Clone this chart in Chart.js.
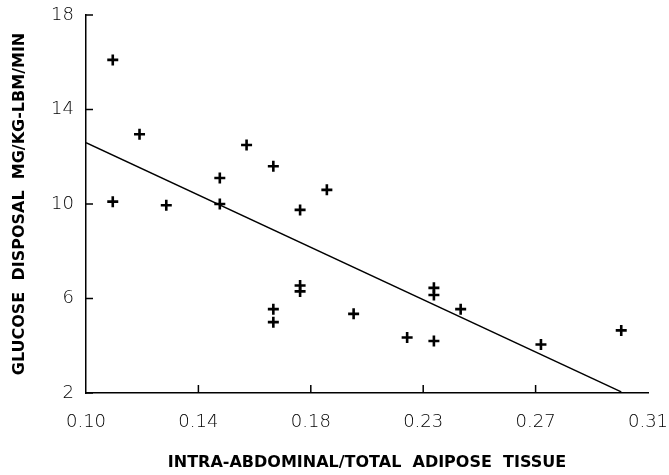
<!DOCTYPE html>
<html>
<head>
<meta charset="utf-8">
<script src="https://cdn.jsdelivr.net/npm/chart.js@4.4.0/dist/chart.umd.min.js"></script>
<style>
html,body{margin:0;padding:0;background:#fff;}
#wrap{width:669px;height:475px;position:relative;}
</style>
</head>
<body>
<div id="wrap"><canvas id="c" width="669" height="475"></canvas></div>
<script>
// Data
const xValues = [0.110,0.120,0.110,0.130,0.150,0.150,0.160,0.170,0.180,0.190,0.170,0.170,0.180,0.180,0.200,0.220,0.230,0.230,0.230,0.240,0.270,0.300];
const yValues = [16.1,12.95,10.1,9.95,11.1,10.0,12.5,11.6,9.75,10.6,5.55,5.0,6.55,6.3,5.35,4.35,4.2,6.45,6.15,5.55,4.05,4.65];
const fitX = [0.10, 0.30];
const fitY = [12.6, 2.05];
const xTickValues = [0.10, 0.142, 0.184, 0.226, 0.268, 0.31];
const xTickLabels = ['0.10','0.14','0.18','0.23','0.27','0.31'];
const yTickValues = [2, 6, 10, 14, 18];
const yTickLabels = ['2','6','10','14','18'];
const xTitle = 'INTRA-ABDOMINAL/TOTAL  ADIPOSE  TISSUE';
const yTitle = 'GLUCOSE  DISPOSAL  MG/KG-LBM/MIN';

const points = xValues.map((x, i) => ({x: x, y: yValues[i]}));
const fitPoints = fitX.map((x, i) => ({x: x, y: fitY[i]}));

const inwardTicks = {
  id: 'inwardTicks',
  afterDraw(chart) {
    const ctx = chart.ctx;
    const xs = chart.scales.x, ys = chart.scales.y;
    const area = chart.chartArea;
    ctx.save();
    ctx.strokeStyle = '#000';
    ctx.lineWidth = 1.5;
    xTickValues.slice(1, -1).forEach(v => {
      const px = xs.getPixelForValue(v);
      ctx.beginPath();
      ctx.moveTo(px, area.bottom);
      ctx.lineTo(px, area.bottom - 8);
      ctx.stroke();
    });
    yTickValues.forEach(v => {
      const py = ys.getPixelForValue(v);
      ctx.beginPath();
      ctx.moveTo(area.left, py);
      ctx.lineTo(area.left + 7, py);
      ctx.stroke();
    });
    ctx.restore();
  }
};

new Chart(document.getElementById('c'), {
  type: 'scatter',
  data: {
    datasets: [
      {
        data: points,
        pointStyle: 'cross',
        pointRadius: 5.5,
        pointBorderWidth: 2.6,
        borderColor: '#000',
        backgroundColor: '#000',
        showLine: false
      },
      {
        type: 'line',
        data: fitPoints,
        borderColor: '#000',
        borderWidth: 1.5,
        pointRadius: 0,
        fill: false,
        tension: 0
      }
    ]
  },
  plugins: [inwardTicks],
  options: {
    responsive: false,
    animation: false,
    events: [],
    layout: {padding: {left: 0, right: 21, top: 15, bottom: 0}},
    plugins: {legend: {display: false}, tooltip: {enabled: false}},
    scales: {
      x: {
        type: 'linear',
        min: 0.10,
        max: 0.31,
        afterBuildTicks(scale) { scale.ticks = xTickValues.map(v => ({value: v})); },
        afterFit(scale) { scale.height = 82; scale.paddingLeft = 0; scale.paddingRight = 0; },
        grid: {display: false, drawTicks: false},
        border: {display: true, color: '#000', width: 1.5},
        ticks: {
          color: '#000',
          padding: 19,
          maxRotation: 0,
          font: {family: 'DejaVu Sans', size: 18, weight: 200},
          callback(value, index) { return xTickLabels[index]; }
        },
        title: {
          display: true,
          text: xTitle,
          color: '#000',
          padding: {top: 0, bottom: 3},
          font: {family: 'DejaVu Sans', size: 16, weight: 'bold'}
        }
      },
      y: {
        type: 'linear',
        min: 2,
        max: 18,
        afterBuildTicks(scale) { scale.ticks = yTickValues.map(v => ({value: v})); },
        afterFit(scale) { scale.width = 86; scale.paddingTop = 0; scale.paddingBottom = 0; },
        grid: {display: false, drawTicks: false},
        border: {display: true, color: '#000', width: 1.5},
        ticks: {
          color: '#000',
          padding: 12,
          font: {family: 'DejaVu Sans', size: 18, weight: 200},
          callback(value, index) { return yTickLabels[index]; }
        },
        title: {
          display: true,
          text: yTitle,
          color: '#000',
          padding: {top: 10, bottom: 0},
          font: {family: 'DejaVu Sans', size: 16, weight: 'bold'}
        }
      }
    }
  }
});
</script>
</body>
</html>
